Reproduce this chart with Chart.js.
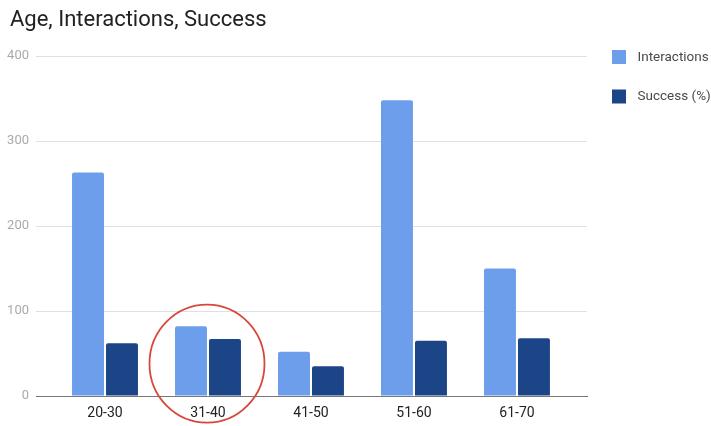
<!DOCTYPE html>
<html>
<head>
<meta charset="utf-8">
<script src="https://cdn.jsdelivr.net/npm/chart.js@4/dist/chart.umd.min.js"></script>
<style>
  html, body { margin: 0; padding: 0; background: #fff; }
  #wrap { width: 711px; height: 426px; position: relative; }
</style>
</head>
<body>
<div id="wrap"><canvas id="c" width="711" height="426"></canvas></div>
<script>
const titleText = "Age, Interactions, Success";
const categories = ["20-30", "31-40", "41-50", "51-60", "61-70"];
const interactions = [263, 82, 52, 348, 150];
const success = [62, 67, 35, 65, 68];
const seriesNames = ["Interactions", "Success (%)"];
const seriesColors = ["#6d9eeb", "#1c4587"];
const yTicks = [0, 100, 200, 300, 400];
const highlightIndex = 1;     // circled category
const highlightValue = 38;    // circle centre on the value axis

const toPoints = arr => arr.map((v, i) => ({ x: i, y: v }));

const titlePlugin = {
  id: 'leftTitle',
  afterDraw(chart) {
    const ctx = chart.ctx;
    ctx.save();
    ctx.font = '22px Roboto';
    ctx.fillStyle = '#212121';
    ctx.textBaseline = 'alphabetic';
    ctx.textAlign = 'left';
    ctx.fillText(titleText, 10, 26);
    ctx.restore();
  }
};

const legendPlugin = {
  id: 'sideLegend',
  afterDraw(chart) {
    const ctx = chart.ctx;
    const a = chart.chartArea;
    ctx.save();
    ctx.font = '13.5px Roboto';
    ctx.textBaseline = 'middle';
    chart.data.datasets.forEach((ds, i) => {
      const cy = a.top + 1 + i * 39.5;
      const bx = a.right + 25;
      ctx.fillStyle = ds.backgroundColor;
      ctx.fillRect(bx, cy - 7, 14, 14);
      ctx.fillStyle = '#4a4a4a';
      ctx.fillText(ds.label, bx + 25.5, cy + 0.5);
    });
    ctx.restore();
  }
};

const circlePlugin = {
  id: 'circleNote',
  afterDatasetsDraw(chart) {
    const ctx = chart.ctx;
    const x = chart.scales.x.getPixelForValue(highlightIndex);
    const y = chart.scales.y.getPixelForValue(highlightValue);
    ctx.save();
    ctx.strokeStyle = '#d9473a';
    ctx.lineWidth = 1.8;
    ctx.beginPath();
    ctx.ellipse(x - 1, y, 57.5, 59, 0, 0, Math.PI * 2);
    ctx.stroke();
    ctx.restore();
  }
};

new Chart(document.getElementById('c'), {
  type: 'bar',
  data: {
    datasets: [
      { label: seriesNames[0], data: toPoints(interactions), backgroundColor: seriesColors[0], borderWidth: 0, borderRadius: 2, borderSkipped: 'start' },
      { label: seriesNames[1], data: toPoints(success), backgroundColor: seriesColors[1], borderWidth: 0, borderRadius: 2, borderSkipped: 'start' }
    ]
  },
  options: {
    responsive: false,
    animation: false,
    devicePixelRatio: 1,
    layout: { padding: { left: 0, right: 124, top: 56, bottom: 0 } },
    datasets: { bar: { categoryPercentage: 0.66, barPercentage: 0.94 } },
    plugins: {
      legend: { display: false },
      tooltip: { enabled: false },
      title: { display: false }
    },
    scales: {
      x: {
        type: 'linear',
        offset: false,
        min: -0.67,
        max: 4.68,
        afterBuildTicks: s => { s.ticks = categories.map((_, i) => ({ value: i })); },
        afterFit: s => { s.height = 30; },
        grid: { display: false, drawTicks: false, offset: false },
        border: { display: true, color: '#777', width: 1 },
        ticks: {
          autoSkip: false,
          maxRotation: 0,
          padding: 9,
          color: '#222',
          font: { family: 'Roboto', size: 14 },
          callback: v => categories[v]
        }
      },
      y: {
        min: 0,
        max: 400,
        afterBuildTicks: s => { s.ticks = yTicks.map(v => ({ value: v })); },
        afterFit: s => { s.width = 36; },
        grid: { color: '#e0e0e0', lineWidth: 1, drawTicks: false },
        border: { display: false },
        ticks: {
          padding: 7,
          color: '#aaa',
          font: { family: 'Roboto', size: 13 }
        }
      }
    }
  },
  plugins: [titlePlugin, legendPlugin, circlePlugin]
});
</script>
</body>
</html>
